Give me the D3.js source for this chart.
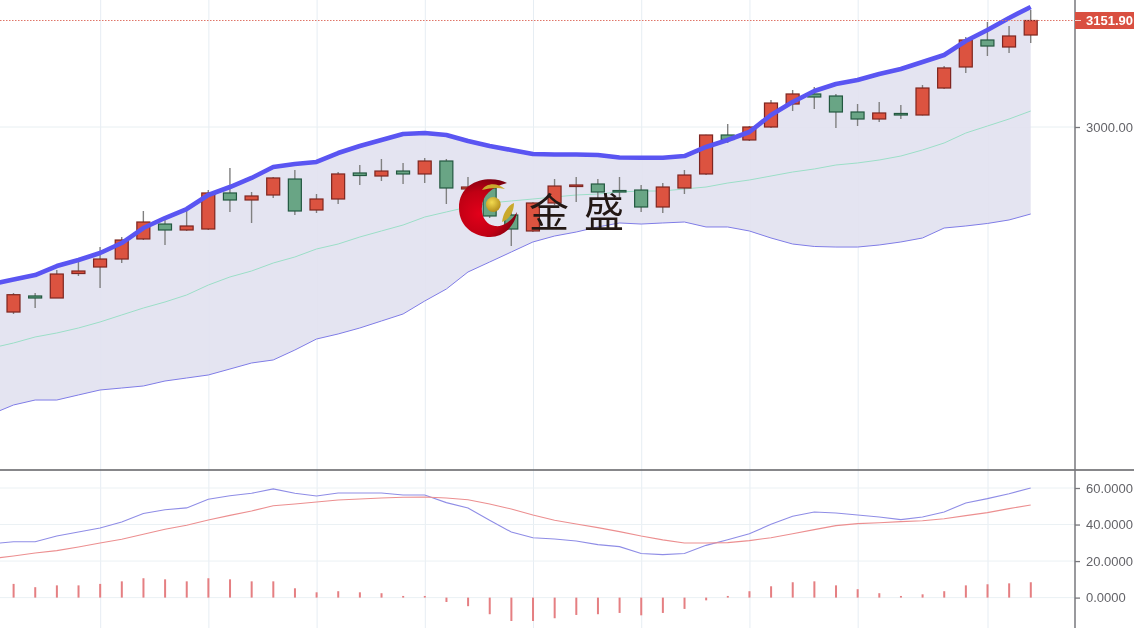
<!DOCTYPE html>
<html><head><meta charset="utf-8">
<script src="https://cdn.jsdelivr.net/npm/d3@7/dist/d3.min.js"></script>
<style>html,body{margin:0;padding:0;background:#fff;overflow:hidden}svg{display:block}</style>
</head><body><div id="chart"></div>
<script>
// Band and MACD line series start one bar before the first visible candle (off the left edge).
const open  = [2736.1,2759.0,2756.1,2791.0,2800.3,2811.7,2840.3,2861.6,2853.1,2854.5,2905.9,2895.9,2903.0,2925.8,2881.6,2897.3,2934.4,2930.1,2937.2,2933.0,2951.5,2911.6,2913.0,2874.5,2851.7,2891.6,2915.1,2918.7,2909.4,2910.1,2885.9,2913.0,2933.0,2988.6,2981.5,3000.0,3032.8,3047.1,3044.2,3021.4,3011.4,3019.3,3017.1,3055.6,3085.6,3124.1,3114.1,3131.2];
const close = [2760.8,2756.1,2790.3,2794.6,2811.7,2838.8,2864.5,2853.1,2858.8,2905.9,2895.9,2901.6,2927.3,2880.2,2897.3,2933.0,2930.8,2937.2,2933.0,2951.5,2913.0,2914.4,2873.1,2854.5,2891.6,2915.8,2917.3,2907.3,2907.3,2885.9,2914.4,2931.5,2988.6,2982.2,3000.0,3034.2,3047.1,3042.8,3021.4,3011.4,3020.0,3017.1,3055.6,3084.2,3124.1,3115.5,3129.8,3151.9];
const high  = [2763.2,2763.2,2796.0,2813.2,2828.8,2843.1,2880.2,2870.2,2883.0,2910.1,2941.5,2907.3,2928.7,2938.7,2904.4,2935.8,2945.8,2954.4,2948.7,2955.8,2954.4,2928.7,2915.8,2881.6,2892.5,2925.8,2928.7,2925.8,2928.7,2917.3,2920.1,2938.7,2989.0,3004.3,3001.4,3038.5,3052.8,3057.1,3047.1,3032.8,3035.7,3031.4,3059.9,3087.0,3128.4,3149.8,3144.1,3166.9];
const low   = [2733.3,2741.8,2756.1,2787.5,2770.4,2806.0,2838.8,2831.7,2851.7,2853.1,2878.8,2863.1,2898.7,2874.5,2877.3,2890.2,2917.3,2923.0,2918.7,2920.1,2890.2,2887.3,2870.2,2830.3,2850.2,2888.7,2893.0,2895.9,2895.9,2878.8,2877.3,2904.4,2931.5,2977.2,2980.0,2998.6,3022.8,3025.7,2998.6,3001.4,3007.1,3011.4,3016.4,3054.2,3077.0,3101.3,3105.5,3119.8];
const bollUpper = [2776.1,2782.5,2788.9,2801.7,2810.3,2820.3,2834.5,2855.9,2870.2,2883.0,2903.0,2914.4,2927.3,2942.9,2947.2,2950.1,2962.9,2972.9,2981.5,2990.0,2991.4,2988.6,2980.0,2972.9,2967.2,2961.5,2960.8,2960.8,2960.1,2956.5,2956.2,2956.2,2958.6,2971.5,2981.5,2992.9,3017.1,3035.7,3051.3,3061.3,3067.0,3075.6,3082.7,3092.7,3102.7,3122.7,3138.4,3155.5,3171.2];
const bollMid   = [2684.8,2691.9,2700.5,2706.2,2713.3,2721.9,2731.9,2741.8,2750.4,2760.4,2774.6,2786.1,2794.6,2806.0,2814.6,2826.0,2833.1,2843.1,2851.7,2860.2,2871.6,2878.8,2885.9,2891.6,2894.5,2897.3,2900.2,2903.0,2904.4,2907.3,2908.7,2908.7,2911.6,2914.4,2920.1,2924.4,2930.1,2935.8,2940.1,2945.8,2948.7,2952.9,2958.6,2967.2,2977.2,2991.4,3001.4,3011.4,3022.8];
const bollLower = [2590.7,2603.5,2610.6,2610.6,2617.8,2624.9,2627.7,2630.6,2637.7,2642.0,2646.3,2654.8,2663.4,2667.7,2681.9,2697.6,2704.8,2713.3,2723.3,2733.3,2751.8,2768.9,2793.2,2807.4,2821.7,2836.0,2844.5,2850.2,2857.4,2863.1,2861.6,2863.1,2864.5,2857.4,2857.4,2851.7,2841.7,2833.1,2829.6,2828.8,2828.8,2831.7,2836.0,2841.7,2855.9,2858.8,2862.4,2867.4,2875.9];
const dif = [29.5,30.6,30.6,33.7,35.9,38.1,41.4,46.0,48.1,49.1,53.8,55.8,57.1,59.5,57.1,55.6,57.3,57.3,57.3,56.2,56.2,52.0,49.1,42.3,35.9,32.8,32.1,31.0,29.0,27.9,24.1,23.5,24.1,28.6,31.7,35.0,40.1,44.5,46.9,46.3,45.2,44.1,42.7,44.1,46.9,51.8,54.2,56.9,60.0];
const dea = [21.3,22.8,24.4,25.7,27.7,29.9,31.9,34.7,37.4,39.6,42.5,45.0,47.4,50.3,51.2,52.3,53.4,54.0,54.5,54.9,55.1,54.5,53.6,51.2,48.5,45.2,42.3,40.3,38.3,36.1,33.7,31.6,29.9,29.9,30.1,31.2,32.8,35.0,37.2,39.4,40.5,41.0,41.6,42.1,43.2,44.9,46.5,48.7,50.7];
const macd = [7.5,5.7,6.7,6.7,7.5,8.9,10.6,10.0,8.9,10.6,10.0,8.9,8.9,5.1,2.9,3.5,2.9,2.4,0.9,0.9,-2.4,-4.7,-9.1,-12.8,-12.8,-11.3,-9.5,-9.1,-8.4,-9.7,-8.4,-6.2,-1.5,0.9,3.5,6.2,8.4,8.9,6.7,4.6,2.4,0.9,1.8,3.5,6.7,7.3,7.8,8.4];
const gridBars = [4,9,14,19,24,29,34,39,45];
const lastPrice = 3151.9;
const priceTicks = [3000];
const macdTicks = [0,20,40,60];
const logoText = ["金","盛"];

const W=1134,H=628,axisX=1075,paneY=470;
const x=d3.scaleLinear().domain([0,47]).range([13.5,1030.7]);
const y=d3.scaleLinear().domain([3000,3151.9]).range([127,20.5]);
const ym=d3.scaleLinear().domain([0,60]).range([597.6,488]);
const svg=d3.select("#chart").append("svg").attr("width",W).attr("height",H).attr("viewBox",[0,0,W,H]);
const defs=svg.append("defs");
defs.append("clipPath").attr("id","cp").append("rect").attr("width",axisX).attr("height",paneY);
defs.append("clipPath").attr("id","cb").append("rect").attr("y",paneY).attr("width",axisX).attr("height",H-paneY);
const f=defs.append("filter").attr("id","soft").attr("x","-2%").attr("y","-2%").attr("width","104%").attr("height","104%");
f.append("feGaussianBlur").attr("stdDeviation",0.4);
const root=svg.append("g").attr("filter","url(#soft)");

// grid
const grid=root.append("g");
grid.selectAll("line.v").data(gridBars).join("line").attr("class","v")
  .attr("x1",d=>x(d)+.6).attr("x2",d=>x(d)+.6).attr("y1",0).attr("y2",H).attr("stroke","#e6edf3").attr("stroke-width",1);
grid.selectAll("line.hp").data(priceTicks).join("line").attr("class","hp")
  .attr("x1",0).attr("x2",axisX).attr("y1",d=>y(d)).attr("y2",d=>y(d)).attr("stroke","#e8eff2");
grid.selectAll("line.hm").data(macdTicks).join("line").attr("class","hm")
  .attr("x1",0).attr("x2",axisX).attr("y1",d=>ym(d)).attr("y2",d=>ym(d)).attr("stroke","#ebf1f4");

// Bollinger
const main=root.append("g").attr("clip-path","url(#cp)");
const ix=(d,i)=>x(i-1);
main.append("path").attr("fill","#e3e3f0").attr("fill-opacity",.95)
  .attr("d",d3.area().x(ix).y0((d,i)=>y(bollLower[i])).y1(d=>y(d))(bollUpper));
main.append("path").attr("fill","none").attr("stroke","#9bdec7").attr("stroke-width",1).attr("d",d3.line().x(ix).y(d=>y(d))(bollMid));
main.append("path").attr("fill","none").attr("stroke","#7f7ce6").attr("stroke-width",1).attr("d",d3.line().x(ix).y(d=>y(d))(bollLower));

// candles
const c=main.append("g").selectAll("g").data(open.map((o,i)=>({i,o,c:close[i],h:high[i],l:low[i]}))).join("g");
c.append("line").attr("x1",d=>x(d.i)).attr("x2",d=>x(d.i)).attr("y1",d=>y(d.h)).attr("y2",d=>y(d.l)).attr("stroke","#808080").attr("stroke-width",1.4);
c.append("rect").attr("x",d=>x(d.i)-6.5).attr("width",13)
  .attr("y",d=>y(Math.max(d.o,d.c))).attr("height",d=>Math.max(1,Math.abs(y(d.o)-y(d.c))))
  .attr("fill",d=>d.c>=d.o?"#dc5240":"#69a585").attr("stroke",d=>d.c>=d.o?"#7e2620":"#235840").attr("stroke-width",1.2);

main.append("path").attr("fill","none").attr("stroke","#5a54f2").attr("stroke-width",4.6).attr("stroke-linejoin","round")
  .attr("d",d3.line().x(ix).y(d=>y(d))(bollUpper));

// last price line
root.append("line").attr("x1",0).attr("x2",axisX).attr("y1",y(lastPrice)).attr("y2",y(lastPrice))
  .attr("stroke","#df7468").attr("stroke-width",1).attr("stroke-dasharray","1.5 1.5");

// MACD
const sub=root.append("g").attr("clip-path","url(#cb)");
sub.selectAll("rect").data(macd).join("rect").attr("x",(d,i)=>x(i)-.9).attr("width",2)
  .attr("y",d=>ym(Math.max(0,d))).attr("height",d=>Math.abs(ym(d)-ym(0))).attr("fill","#e57f82");
sub.append("path").attr("fill","none").attr("stroke","#8f8de6").attr("stroke-width",1.1).attr("d",d3.line().x(ix).y(d=>ym(d))(dif));
sub.append("path").attr("fill","none").attr("stroke","#ec8f90").attr("stroke-width",1.1).attr("d",d3.line().x(ix).y(d=>ym(d))(dea));

// axes
const fontF='"Liberation Sans",Arial,sans-serif';
root.append("line").attr("x1",0).attr("x2",W).attr("y1",paneY).attr("y2",paneY).attr("stroke","#606065").attr("stroke-width",1.4);
root.append("line").attr("x1",axisX).attr("x2",axisX).attr("y1",0).attr("y2",H).attr("stroke","#77777c").attr("stroke-width",1.5);
const pa=d3.axisRight(y).tickValues(priceTicks).tickSize(5).tickPadding(6).tickFormat(d3.format(".2f"));
const ma=d3.axisRight(ym).tickValues(macdTicks).tickSize(5).tickPadding(6).tickFormat(d3.format(".4f"));
[pa,ma].forEach(a=>{
  const g=root.append("g").attr("transform",`translate(${axisX},0)`).call(a);
  g.select(".domain").remove();
  g.selectAll("line").attr("stroke","#77777c").attr("stroke-width",1.3);
  g.selectAll("text").attr("font-family",fontF).attr("font-size",13).attr("fill","#636368");
});

// last price tag
const ly=y(lastPrice);
root.append("rect").attr("x",axisX).attr("y",ly-8.5).attr("width",W-axisX).attr("height",17).attr("fill","#d9503f");
root.append("line").attr("x1",axisX).attr("x2",axisX+6).attr("y1",ly).attr("y2",ly).attr("stroke","#f6d6d0").attr("stroke-width",1);
root.append("text").attr("x",axisX+11).attr("y",ly+4.6).attr("font-family",fontF).attr("font-weight",700).attr("font-size",13).attr("fill","#fff").text(d3.format(".2f")(lastPrice));

// watermark logo (decoration)
const lg=svg.append("g").attr("transform","translate(488,208)");
const rg=defs.append("radialGradient").attr("id","rg").attr("cx","35%").attr("cy","60%").attr("r","65%");
rg.append("stop").attr("offset","0").attr("stop-color","#e2001a");
rg.append("stop").attr("offset","0.6").attr("stop-color","#c00014");
rg.append("stop").attr("offset","1").attr("stop-color","#7c0010");
const gg=defs.append("radialGradient").attr("id","gg").attr("cx","40%").attr("cy","35%").attr("r","70%");
gg.append("stop").attr("offset","0").attr("stop-color","#f2da50");
gg.append("stop").attr("offset","1").attr("stop-color","#b08a18");
lg.append("path").attr("fill","url(#rg)")
  .attr("d","M19,-25 C5,-33 -29,-30 -29,0 C-29,20 -12,29 2,29 C17,29 27,17 29,4 C22,15 14,19 7,18 C-2,17 -7,8 -6,-1 C-6,-12 3,-21 19,-25 Z");
lg.append("circle").attr("cx",5.3).attr("cy",-3.5).attr("r",7.4).attr("fill","url(#gg)");
lg.append("path").attr("fill","#c9a92c").attr("d","M-6,-18 C-2,-25 9,-26 17,-19 C9,-21 2,-20 -6,-18 Z");
lg.append("path").attr("fill","#c9a92c").attr("d","M14,14 C15,6 19,-2 26,-5 C26,3 22,11 14,14 Z");
svg.append("g").selectAll("text").data(logoText).join("text")
  .attr("x",(d,i)=>i===0?529:584).attr("y",227).attr("font-family",'"Noto Sans CJK SC"').attr("font-size",40).attr("font-weight",400).attr("fill","#231815").text(d=>d);
</script></body></html>
